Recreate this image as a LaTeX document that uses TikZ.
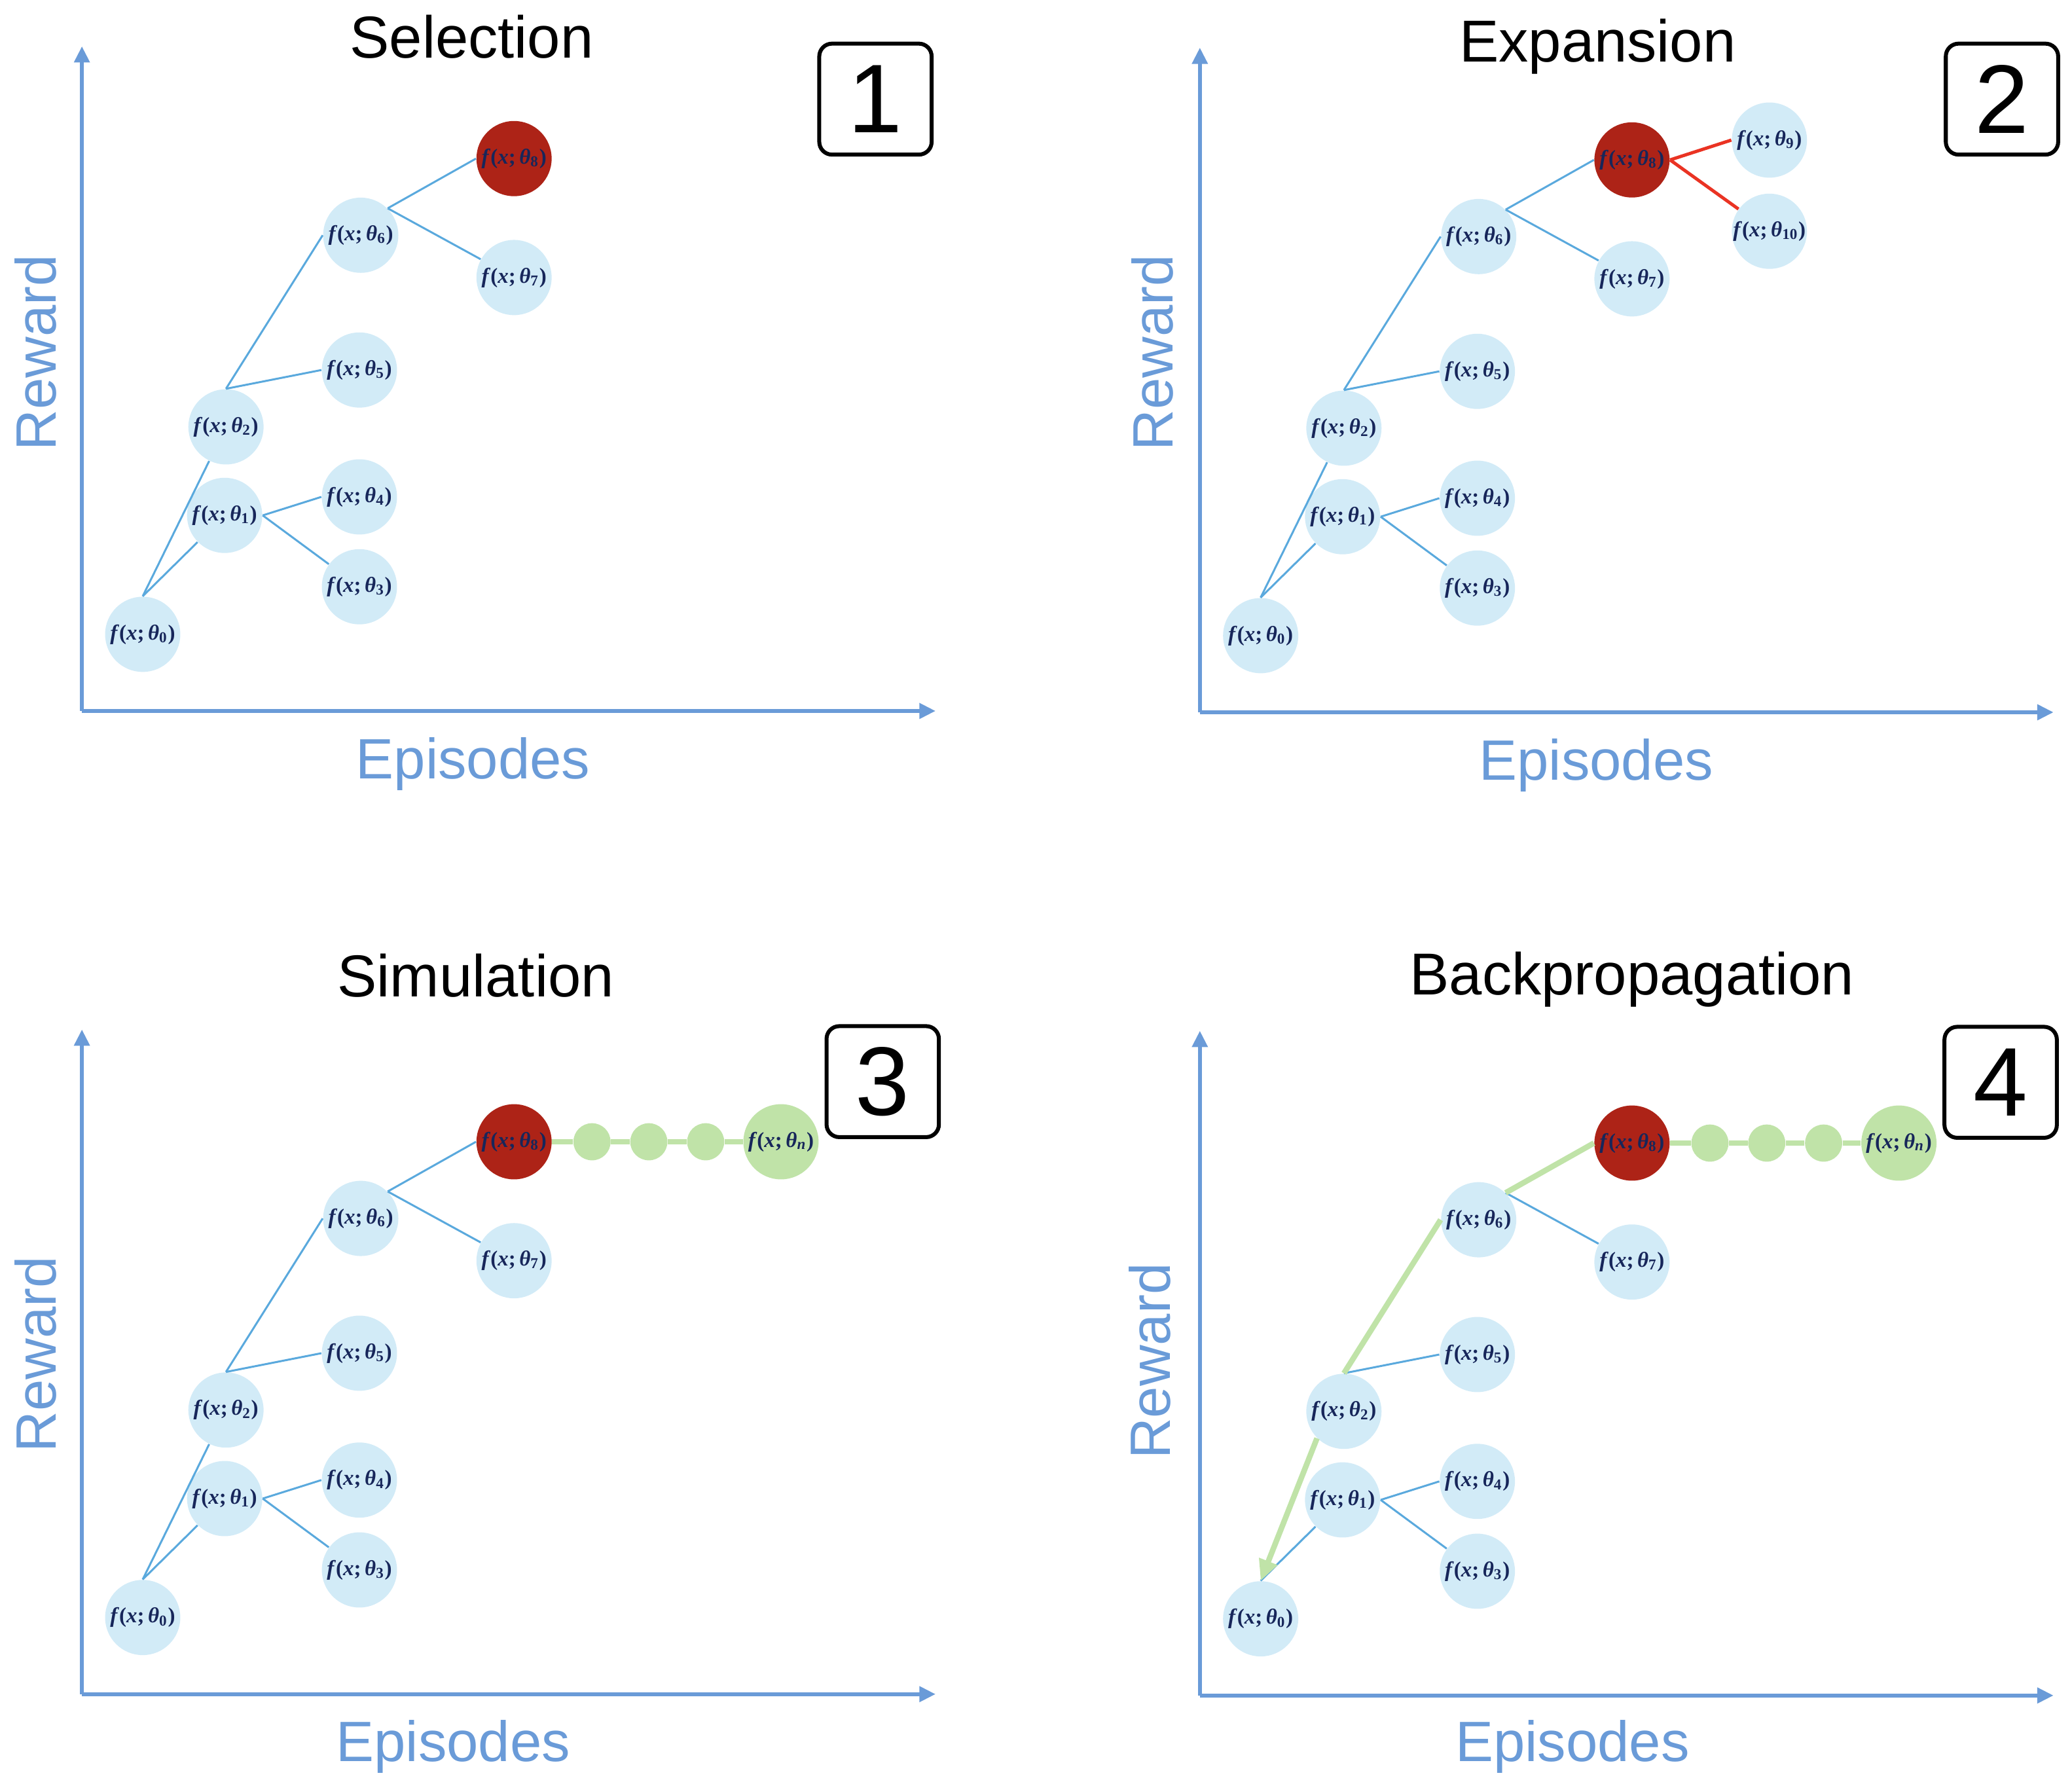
\documentclass[tikz,border=0pt]{standalone}
\usepackage{fontspec}
\usetikzlibrary{arrows.meta}
\newfontfamily\lsans{Liberation Sans}
\newfontfamily\lserif{Liberation Serif}
\definecolor{axisblue}{HTML}{6A9BD8}
\definecolor{edgeblue}{HTML}{5AA9DD}
\definecolor{nodeblue}{HTML}{D2EBF7}
\definecolor{nodered}{HTML}{AD2317}
\definecolor{nodegreen}{HTML}{C0E3A8}
\definecolor{textnavy}{HTML}{17265A}
\definecolor{brightred}{HTML}{EA3323}
\newcommand\fth[1]{\textit{f}(\textit{x};\,\textit{θ}\textsubscript{#1})}
\tikzset{
  tn/.style={circle, fill=nodeblue, minimum size=32.4pt, inner sep=0pt, text=textnavy,
    font=\lserif\bfseries\fontsize{9.3}{10}\selectfont},
  rn/.style={tn, fill=nodered},
  gn/.style={tn, fill=nodegreen},
  dotn/.style={circle, fill=nodegreen, minimum size=16pt, inner sep=0pt},
  bedge/.style={draw=edgeblue, line width=0.85pt},
  redge/.style={draw=brightred, line width=1.4pt},
  gedge/.style={draw=nodegreen, line width=2.4pt},
  axisline/.style={draw=axisblue, line width=1.7pt, -{Triangle[length=7pt,width=6.5pt]}},
  ttl/.style={font=\lsans\fontsize{25.5}{30}\selectfont, inner sep=0pt},
  axlabel/.style={text=axisblue, font=\lsans\fontsize{24.5}{29}\selectfont, inner sep=0pt},
  numbox/.style={draw=black, line width=1.7pt, rounded corners=5.5pt, minimum width=48.4pt,
    minimum height=47.8pt, inner sep=0pt, font=\lsans\fontsize{42}{50}\selectfont}
}
\newcommand\mytreenodes[3]{%
  \begin{scope}[shift={(#2,#3)}]
    \node[tn] (#1-0) at (108,480) {\fth{0}};
    \node[tn] (#1-1) at (170,390) {\fth{1}};
    \node[tn] (#1-2) at (171,323) {\fth{2}};
    \node[tn] (#1-3) at (272,444) {\fth{3}};
    \node[tn] (#1-4) at (272,376) {\fth{4}};
    \node[tn] (#1-5) at (272,280) {\fth{5}};
    \node[tn] (#1-6) at (273,178) {\fth{6}};
    \node[tn] (#1-7) at (389,210) {\fth{7}};
    \node[rn] (#1-8) at (389,120) {\fth{8}};
    \coordinate (#1-ytop) at (62,35);
    \coordinate (#1-orig) at (62,538);
    \coordinate (#1-xend) at (708,538);
  \end{scope}
  \draw[axisline] (#1-orig) -- (#1-ytop);
  \draw[axisline] (#1-orig) -- (#1-xend);
  \draw[bedge] (#1-0.north) -- (#1-1);
  \draw[bedge] (#1-1.east) -- (#1-4.west);
  \draw[bedge] (#1-1.east) -- (#1-3);
  \draw[bedge] (#1-2.north) -- (#1-5.west);
  \draw[bedge] (#1-6.north east) -- (#1-7);
}
\newcommand\mypathblue[1]{%
  \draw[bedge] (#1-0.north) -- (#1-2);
  \draw[bedge] (#1-2.north) -- (#1-6.west);
  \draw[bedge] (#1-6.north east) -- (#1-8.west);
}
\newcommand\mychain[3]{%
  \begin{scope}[shift={(#2,#3)}]
    \node[dotn] (#1-d1) at (448,120) {};
    \node[dotn] (#1-d2) at (491,120) {};
    \node[dotn] (#1-d3) at (534,120) {};
    \node[gn] (#1-n) at (591,120) {\fth{\textit{n}}};
  \end{scope}
  \draw[gedge] (#1-8.east) -- (#1-d1.west);
  \draw[gedge] (#1-d1.east) -- (#1-d2.west);
  \draw[gedge] (#1-d2.east) -- (#1-d3.west);
  \draw[gedge] (#1-d3.east) -- (#1-n.west);
}
\begin{document}
\begin{tikzpicture}[x=0.02cm, y=-0.02cm]
  \useasboundingbox (0,0) rectangle (1568,1350);
  % Panel 1
  \mytreenodes{a}{0}{0}
  \mypathblue{a}
  \node[ttl] (t1) at (357,28) {Selection};
  \node[numbox] (b1) at (662.5,75) {1};
  \node[axlabel, rotate=90] (r1) at (27,267) {Reward};
  \node[axlabel] (e1) at (358,578) {Episodes};
  % Panel 2
  \mytreenodes{b}{846}{1}
  \mypathblue{b}
  \node[tn] (b-9) at (1339,106) {\fth{9}};
  \node[tn] (b-10) at (1339,175) {\fth{10}};
  \draw[redge] (b-8.east) -- (b-9.west);
  \draw[redge] (b-8.east) -- (b-10);
  \node[ttl] (t2) at (1209,35) {Expansion};
  \node[numbox] (b2) at (1515,75) {2};
  \node[axlabel, rotate=90] (r2) at (872,267) {Reward};
  \node[axlabel] (e2) at (1208,579) {Episodes};
  % Panel 3
  \mytreenodes{c}{0}{744}
  \mypathblue{c}
  \mychain{c}{0}{744}
  \node[ttl] (t3) at (360,738) {Simulation};
  \node[numbox] (b3) at (668,818.5) {3};
  \node[axlabel, rotate=90] (r3) at (27,1025) {Reward};
  \node[axlabel] (e3) at (343,1322) {Episodes};
  % Panel 4
  \mytreenodes{d}{846}{745}
  \mychain{d}{846}{745}
  \draw[gedge] (d-8.west) -- (d-6.north east);
  \draw[gedge] (d-6.west) -- (d-2.north);
  \draw[gedge, -{Triangle[length=9pt,width=8pt]}] (d-2.south west) -- (d-0.north);
  \node[ttl] (t4) at (1235,741) {Backpropagation};
  \node[numbox] (b4) at (1514,819) {4};
  \node[axlabel, rotate=90] (r4) at (870,1030) {Reward};
  \node[axlabel] (e4) at (1190,1322) {Episodes};
\end{tikzpicture}
\end{document}
